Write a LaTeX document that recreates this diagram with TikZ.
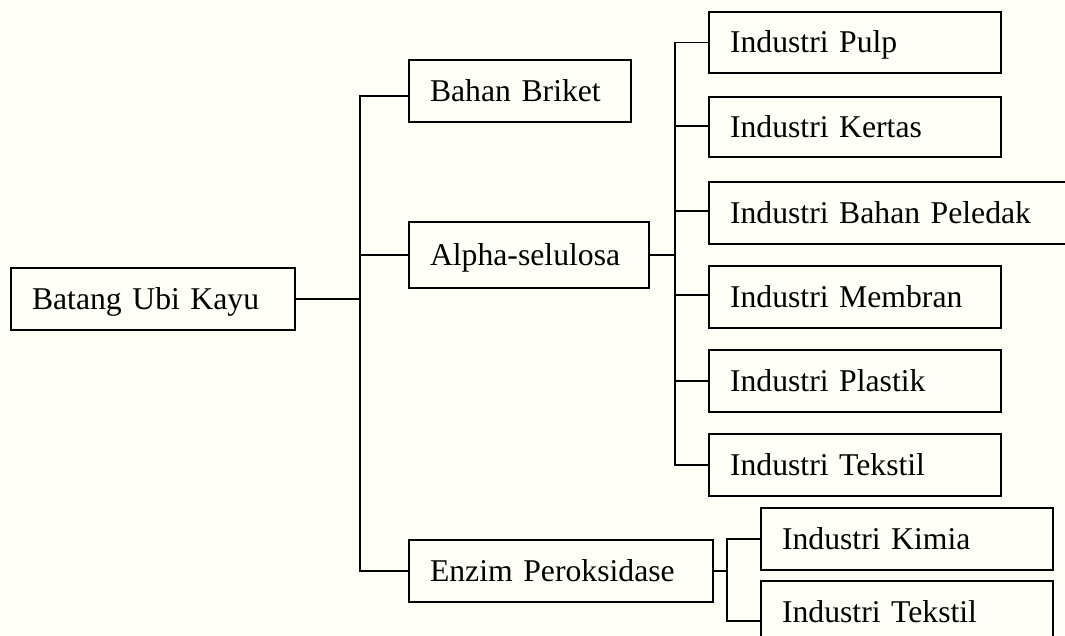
\documentclass[tikz,border=0pt]{standalone}
\usepackage{fontspec}
\setmainfont{Liberation Serif}
\begin{document}
\begin{tikzpicture}[x=1pt,y=-1pt,
  line width=1.7pt,
  box/.style={draw=black, line width=1.7pt, rectangle, align=left,
    inner xsep=21pt, inner ysep=0pt, text height=21pt, text depth=0pt,
    font=\fontsize{31.7}{38}\selectfont},
  link/.style={draw=black, line width=1.7pt}]
\useasboundingbox (0,0) rectangle (1065,636);
\clip (0,0) rectangle (1065,636);
\fill[white!97!yellow] (0,0) rectangle (1065,636);

% root
\node[box, text width=242pt, minimum height=62pt] (root) at (153,299) {Batang Ubi Kayu};

% first level
\node[box, text width=180pt, minimum height=62pt] (briket) at (520,91) {Bahan Briket};
\node[box, text width=198pt, minimum height=66pt] (alpha) at (529,255) {Alpha-selulosa};
\node[box, text width=262pt, minimum height=62pt] (enzim) at (561,571) {Enzim Peroksidase};

% products of alpha-selulosa
\node[box, text width=250pt, minimum height=61pt] (pulp) at (855,42.5) {Industri Pulp};
\node[box, text width=250pt, minimum height=60pt] (kertas) at (855,127) {Industri Kertas};
\node[box, text width=349pt, minimum height=62pt] (peledak) at (904.5,213) {Industri Bahan Peledak};
\node[box, text width=250pt, minimum height=62pt] (membran) at (855,297) {Industri Membran};
\node[box, text width=250pt, minimum height=62pt] (plastik) at (855,381) {Industri Plastik};
\node[box, text width=250pt, minimum height=62pt] (tekstilA) at (855,465) {Industri Tekstil};

% products of enzim peroksidase
\node[box, text width=250pt, minimum height=62pt] (kimia) at (907,539) {Industri Kimia};
\node[box, text width=250pt, minimum height=62pt] (tekstilB) at (907,612) {Industri Tekstil};

% vertical trunk positions
\coordinate (ta) at (360,96);
\coordinate (ra) at (675,43);
\coordinate (sa) at (727,539);

% root to first level
\draw[link] (root.east) -- (root.east -| ta);
\draw[link] ([yshift=-5pt]briket.west) -| (ta) |- (enzim.west);
\draw[link] (alpha.west) -- (alpha.west -| ta);

% alpha-selulosa branch
\draw[link] (alpha.east) -- (alpha.east -| ra);
\draw[link] (pulp.west) -| (ra) |- (tekstilA.west);
\draw[link] ([yshift=1pt]kertas.west) -- ([yshift=1pt]kertas.west -| ra);
\draw[link] ([yshift=2pt]peledak.west) -- ([yshift=2pt]peledak.west -| ra);
\draw[link] ([yshift=2pt]membran.west) -- ([yshift=2pt]membran.west -| ra);
\draw[link] (plastik.west) -- (plastik.west -| ra);

% enzim peroksidase branch
\draw[link] (enzim.east) -- (enzim.east -| sa);
\draw[link] (kimia.west) -| (sa) |- ([yshift=-9pt]tekstilB.west);
\end{tikzpicture}
\end{document}
